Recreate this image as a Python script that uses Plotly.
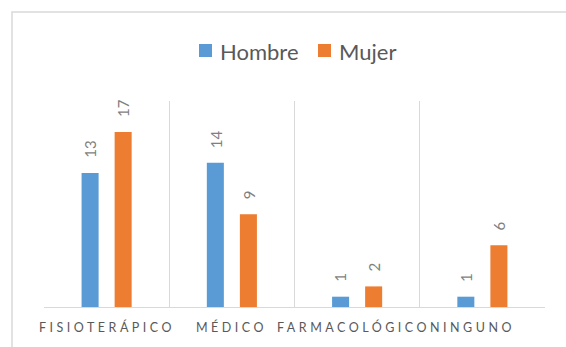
import plotly.graph_objects as go

# Tratamiento recibido, por sexo
categorias = ["Fisioterápico", "Médico", "Farmacológico", "Ninguno"]
hombre = [13, 14, 1, 1]
mujer = [17, 9, 2, 6]

series = [("Hombre", hombre, "#5B9BD5"), ("Mujer", mujer, "#ED7D31")]

W, H = 566, 347
M_L, M_R, M_T, M_B = 44, 21, 101, 40
PW, PH = W - M_L - M_R, H - M_T - M_B

BARGAP = 0.472
GROUPGAP = 0.485
FONT = "Lato, 'Open Sans', sans-serif"


def px_x(px):
    """pixel column -> paper x"""
    return (px - M_L) / PW


def px_y(py):
    """pixel row -> paper y"""
    return (H - M_B - py) / PH


fig = go.Figure()
for nombre, valores, color in series:
    fig.add_trace(go.Bar(name=nombre, x=categorias, y=valores, showlegend=False,
                         marker=dict(color=color, line=dict(width=0))))

# centre offset of each bar inside its category slot
offsets = [(-0.5 + (k + 0.5) / len(series)) * (1 - BARGAP) for k in range(len(series))]

annotations = []
shapes = []
for (nombre, valores, color), off in zip(series, offsets):
    for i, v in enumerate(valores):
        annotations.append(dict(
            x=i + off, y=v, xref="x", yref="y", text=str(v), showarrow=False,
            textangle=-90, yanchor="bottom", xanchor="center", yshift=13,
            font=dict(family=FONT, size=15, color="#7F7F7F")))

# letter-spaced category labels under the axis
label_shift = [0, 0, -4, -10]
for i, c in enumerate(categorias):
    annotations.append(dict(
        x=i, y=0, xref="x", yref="paper", showarrow=False,
        text='<span style="letter-spacing:3.5px">' + c.upper() + "</span>",
        xanchor="center", yanchor="middle", yshift=-20, xshift=label_shift[i],
        font=dict(family=FONT, size=12.5, color="#595959")))

# legend row: square swatch followed by the series name
legend_left = [199, 318]
for (nombre, valores, color), x0 in zip(series, legend_left):
    shapes.append(dict(type="rect", xref="paper", yref="paper",
                       x0=px_x(x0), x1=px_x(x0 + 13), y0=px_y(57), y1=px_y(44),
                       fillcolor=color, line=dict(width=0)))
    annotations.append(dict(
        x=px_x(x0 + 19), y=px_y(51), xref="paper", yref="paper", text=nombre,
        showarrow=False, xanchor="left", yanchor="middle",
        font=dict(family=FONT, size=22, color="#595959")))

# chart-area frame
shapes.append(dict(type="rect", xref="paper", yref="paper",
                   x0=px_x(12), x1=px_x(W + 20), y0=px_y(H + 20), y1=px_y(12),
                   line=dict(color="#D9D9D9", width=1.5), layer="below"))

fig.update_layout(
    width=W, height=H,
    margin=dict(l=M_L, r=M_R, t=M_T, b=M_B),
    paper_bgcolor="white", plot_bgcolor="white",
    barmode="group", bargap=BARGAP, bargroupgap=GROUPGAP,
    showlegend=False,
    annotations=annotations,
    shapes=shapes,
)
fig.update_xaxes(type="category", range=[-0.5, 3.5], tickson="boundaries",
                 showgrid=True, gridcolor="#D9D9D9", gridwidth=1,
                 showline=True, linecolor="#D9D9D9", linewidth=1,
                 showticklabels=False, ticks="")
fig.update_yaxes(range=[0, 20], showgrid=False, zeroline=False,
                 showticklabels=False, showline=False)

fig.write_html("out.html")
